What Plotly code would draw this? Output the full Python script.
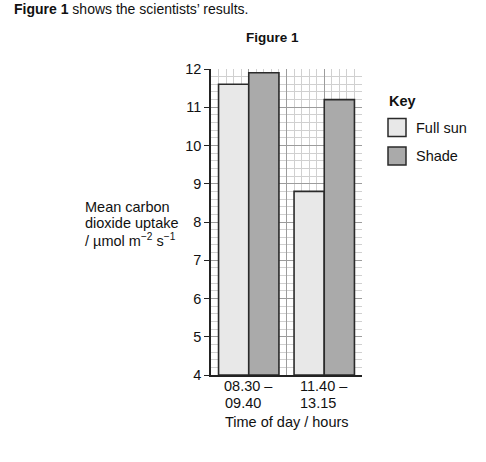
import plotly.graph_objects as go

categories_line1 = ["08.30 –", "11.40 –"]
categories_line2 = ["09.40", "13.15"]
series_names = ["Full sun", "Shade"]
full_sun = [11.6, 8.8]
shade = [11.9, 11.2]
y_ticks = [4, 5, 6, 7, 8, 9, 10, 11, 12]

x_pos = [1, 3]
FONT = "Liberation Sans, Arial, sans-serif"
COLORS = ["#e8e8e8", "#aaaaaa"]
EDGE = "#2a2a2a"
W, H = 486, 462
L, R, T, B = 211, 124, 69, 87
pw, ph = W - L - R, H - T - B


def px_x(x):
    return (x - L) / pw


def px_y(y):
    return (H - B - y) / ph


fig = go.Figure()
for name, vals, col in zip(series_names, [full_sun, shade], COLORS):
    fig.add_trace(go.Bar(x=x_pos, y=[v - 4 for v in vals], base=4, name=name,
                         showlegend=False, hoverinfo="skip",
                         marker=dict(color=col, line=dict(color=EDGE, width=1.6))))

NB = "\u00a0"
annotations = [
    dict(text="<b>Figure 1</b> shows the scientists’ results.", x=px_x(12), y=px_y(-1),
         xanchor="left", yanchor="top", font=dict(size=14), xref="paper"),
    dict(text="<b>Figure 1</b>", x=px_x(272), y=px_y(38), xref="paper",
         xanchor="center", yanchor="middle", font=dict(size=13.5)),
    dict(text="Mean carbon", x=px_x(83), y=px_y(207), xanchor="left", yanchor="middle",
         font=dict(size=14.5), xref="paper"),
    dict(text="dioxide uptake", x=px_x(83), y=px_y(223), xanchor="left", yanchor="middle",
         font=dict(size=14.5), xref="paper"),
    dict(text="/ µmol m<sup>−2</sup> s<sup>−1</sup>", x=px_x(83), y=px_y(240), xref="paper",
         xanchor="left", yanchor="middle", font=dict(size=14.5)),
    dict(text="<b>Key</b>", x=px_x(387), y=px_y(101), xanchor="left", yanchor="middle",
         font=dict(size=14.5), xref="paper"),
    dict(text="Time of day / hours", x=0.5, y=px_y(422), xanchor="center", yanchor="middle",
         font=dict(size=14.5), xref="paper"),
]
# category labels placed on the x axis scale
for xp, l1, l2 in zip(x_pos, categories_line1, categories_line2):
    annotations.append(dict(text=l1, x=xp, xref="x", y=px_y(386), xanchor="center",
                            yanchor="middle", font=dict(size=14.5)))
    annotations.append(dict(text=l2 + NB * 3, x=xp, xref="x", y=px_y(403), xanchor="center",
                            yanchor="middle", font=dict(size=14.5)))

shapes = []
key_rows = [127.5, 156]
for name, col, yc in zip(series_names, COLORS, key_rows):
    shapes.append(dict(type="rect", xref="paper", yref="paper",
                       x0=px_x(388), x1=px_x(406), y0=px_y(yc - 9), y1=px_y(yc + 9),
                       fillcolor=col, line=dict(color=EDGE, width=1.5)))
    annotations.append(dict(text=name, x=px_x(414), y=px_y(yc), xanchor="left",
                            yanchor="middle", font=dict(size=14.5), xref="paper"))

for a in annotations:
    a.update(yref="paper", showarrow=False, align="left")

MAJOR = "#9c9c9c"
MINOR = "#d0d0d0"
fig.update_layout(
    width=W, height=H,
    margin=dict(l=L, r=R, t=T, b=B),
    paper_bgcolor="white", plot_bgcolor="white",
    font=dict(family=FONT, size=14, color="#111"),
    barmode="group", bargap=0.2, bargroupgap=0,
    xaxis=dict(range=[0, 4], tickvals=[0, 1, 2, 3, 4], showticklabels=False,
               showline=True, linecolor="#222", linewidth=1.5,
               ticks="", showgrid=True, gridcolor=MAJOR, gridwidth=1,
               zeroline=False,
               minor=dict(dtick=0.2, showgrid=True, gridcolor=MINOR, gridwidth=1)),
    yaxis=dict(range=[4, 12], tickvals=y_ticks,
               showline=True, linecolor="#222", linewidth=1.5,
               ticks="outside", ticklen=5, tickcolor="#222",
               showgrid=True, gridcolor=MAJOR, gridwidth=1,
               zeroline=False, tickfont=dict(size=14.5),
               minor=dict(dtick=0.2, showgrid=True, gridcolor=MINOR, gridwidth=1)),
    annotations=annotations,
    shapes=shapes,
)

fig.write_html("out.html", config={"displayModeBar": False},
               post_script="document.body.style.margin='0px';")
